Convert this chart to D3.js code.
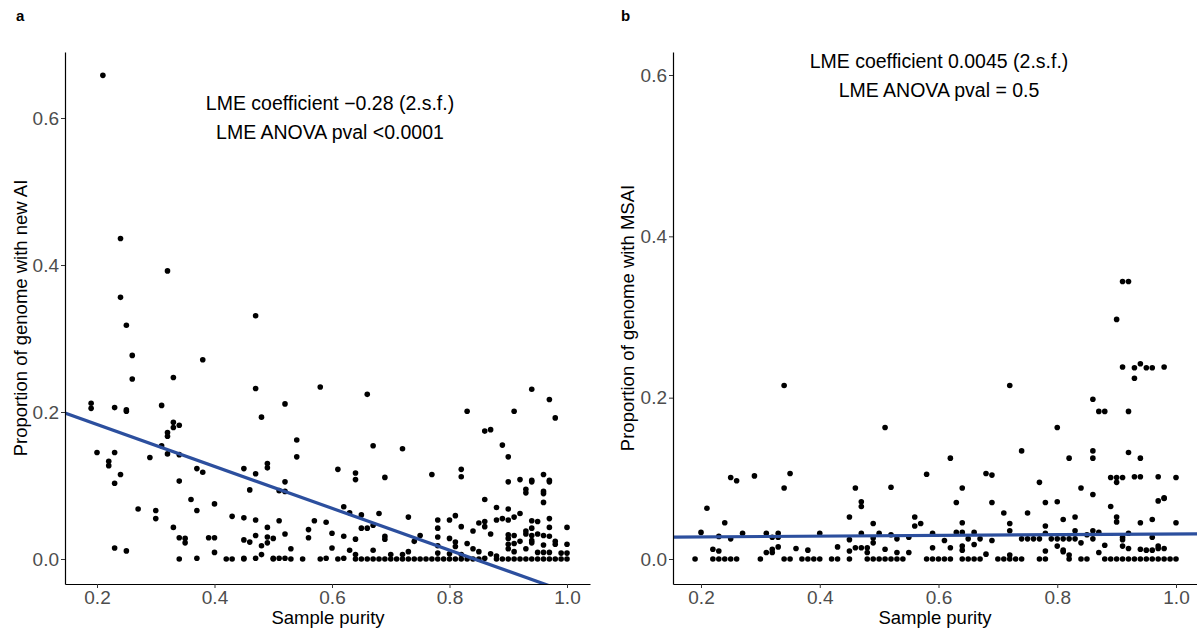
<!DOCTYPE html>
<html>
<head>
<meta charset="utf-8">
<script src="https://cdn.jsdelivr.net/npm/d3@7"></script>
<style>
  html, body { margin: 0; padding: 0; background: #fff; }
  svg { display: block; font-family: "Liberation Sans", Arial, Helvetica, sans-serif; }
</style>
</head>
<body>
<svg id="chart" width="1197" height="632"></svg>
<script>
// Panel a: sample purity vs proportion of genome with new allelic imbalance
const purityNewAI = [
  0.21,0.24,0.24,0.25,0.26,0.26,0.32,0.33,0.38,0.47,0.47,0.52,0.58,0.66,0.94,0.97,0.98,
  0.19,0.19,0.23,0.25,0.25,0.31,0.83,0.91,0.48,
  0.33,0.33,0.34,0.32,0.32,0.31,0.20,0.23,0.32,0.34,0.29,0.22,0.22,0.24,0.23,0.37,0.38,0.34,
  0.27,0.30,0.30,0.36,0.37,0.40,0.33,0.34,0.35,0.35,0.23,0.25,0.34,0.37,0.39,0.40,0.40,0.42,0.43,0.43,
  0.45,0.45,0.45,0.45,0.45, 0.46,0.46, 0.47,0.47,0.47,0.47, 0.48,0.48,
  0.49,0.49,0.49,0.49,0.49, 0.50,0.50,0.50, 0.51,0.51,0.51, 0.52,0.52,0.52,0.52, 0.53,0.53,
  0.54,0.54, 0.55, 0.56,0.56, 0.57, 0.58, 0.59,0.59, 0.60,0.60, 0.61,0.61, 0.62,0.62,0.62,
  0.63,0.63, 0.64,0.64,0.64,0.64,0.64, 0.65,0.65,0.65, 0.66,0.66, 0.67,0.67,0.67,0.67,
  0.68,0.68, 0.69,0.69,0.69,0.69, 0.70,0.70, 0.71, 0.72,0.72,0.72, 0.73,0.73,0.73,
  0.74,0.74, 0.75,0.75, 0.76, 0.77,0.77, 0.78,0.78,0.78,0.78,0.78,0.78, 0.79,
  0.80,0.80,0.80,0.80, 0.81,0.81,0.81,0.81, 0.82,0.82,0.82,0.82,0.82, 0.83,0.83,
  0.84,0.84,0.84, 0.85,0.85,0.85, 0.86,0.86,0.86,0.86,0.86, 0.87,0.87,0.87,
  0.88,0.88,0.88,0.88, 0.89,0.89,0.89,
  0.90,0.90,0.90,0.90,0.90,0.90,0.90,0.90,0.90, 0.91,0.91,0.91,0.91,0.91,
  0.92,0.92,0.92,0.92, 0.93,0.93,0.93,0.93,0.93,0.93,
  0.94,0.94,0.94,0.94,0.94,0.94,0.94,0.94, 0.95,0.95,0.95,0.95,
  0.96,0.96,0.96,0.96,0.96,0.96,0.96,0.96, 0.97,0.97,0.97,0.97,0.97,0.97,0.97,
  0.98,0.98,0.98, 0.99,0.99, 1.00,1.00,1.00,1.00
];
const propNewAI = [
  0.658,0.436,0.356,0.318,0.277,0.245,0.392,0.247,0.271,0.331,0.232,0.211,0.234,0.224,0.231,0.217,0.192,
  0.212,0.205,0.206,0.203,0.201,0.209,0.201,0.201,0.193,
  0.186,0.179,0.182,0.172,0.167,0.154,0.145,0.145,0.143,0.142,0.138,0.133,0.127,0.115,0.103,0.123,0.118,0.106,
  0.068,0.066,0.055,0.081,0.066,0.075,0.043,0.029,0.028,0.022,0.015,0.011,0.000,0.001,0.029,0.029,0.009,0.000,0.000,0.058,
  0.123,0.056,0.026,0.001,0.000, 0.094,0.023, 0.116,0.053,0.032,0.001, 0.018,0.006,
  0.130,0.124,0.043,0.030,0.022, 0.028,0.001,0.000, 0.093,0.052,0.001, 0.105,0.092,0.034,0.001, 0.014,0.000,
  0.162,0.139, 0.000, 0.040,0.029, 0.052, 0.000, 0.050,0.001, 0.035,0.015, 0.122,0.000, 0.071,0.031,0.001,
  0.063,0.012, 0.117,0.108,0.027,0.006,0.000, 0.060,0.042,0.000, 0.042,0.000, 0.154,0.046,0.012,0.000,
  0.062,0.000, 0.111,0.031,0.027,0.000, 0.006,0.000, 0.000, 0.150,0.006,0.000, 0.057,0.010,0.000,
  0.024,0.000, 0.032,0.000, 0.000, 0.115,0.000, 0.053,0.042,0.030,0.018,0.008,0.000, 0.000,
  0.053,0.028,0.007,0.000, 0.059,0.023,0.017,0.000, 0.122,0.112,0.044,0.006,0.000, 0.021,0.000,
  0.038,0.014,0.000, 0.049,0.010,0.000, 0.174,0.081,0.051,0.044,0.001, 0.176,0.034,0.007,
  0.070,0.053,0.004,0.000, 0.155,0.055,0.000,
  0.139,0.105,0.068,0.053,0.033,0.028,0.020,0.014,0.000, 0.057,0.032,0.021,0.010,0.000,
  0.108,0.062,0.024,0.000, 0.095,0.090,0.038,0.034,0.014,0.000,
  0.107,0.105,0.052,0.042,0.032,0.025,0.022,0.000, 0.051,0.034,0.009,0.000,
  0.115,0.092,0.089,0.077,0.032,0.019,0.009,0.000, 0.107,0.105,0.055,0.043,0.031,0.009,0.000,
  0.024,0.020,0.000, 0.008,0.000, 0.043,0.020,0.008,0.000
];

// Panel b: sample purity vs proportion of genome with MSAI
const purityMSAI = [
  0.91,0.92,0.90,0.91,0.93,0.94,0.95,0.96,0.98,0.93,0.34,0.72,0.86,0.87,0.88,0.92,0.51,0.80,
  0.74,0.86,0.86,0.92,0.94,0.62,0.82,
  0.25,0.26,0.29,0.35,0.34,0.58,0.68,0.69,0.77,0.89,0.90,0.91,0.90,0.93,0.94,0.97,1.00,
  0.46,0.52,0.64,0.84,0.86,0.21,0.63,0.69,0.78,0.80,0.47,0.47,0.89,0.97,0.98,0.98,
  0.71,0.75,0.45,0.56,0.56,0.57,0.83,0.90,0.90,0.96,0.24,0.49,0.64,0.72,0.78,0.94,1.00,0.81,
  0.20,0.27,0.31,0.33,0.33,0.32,0.23,0.25,0.40,0.47,0.49,0.50,0.52,0.53,0.55,0.59,0.61,
  0.63,0.64,0.66,0.65,0.67,0.66,0.69,0.72,0.74,0.75,0.76,0.77,0.78,0.79,0.80,0.81,0.82,0.83,
  0.83,0.85,0.86,0.87,0.86,0.91,0.91,0.92,0.96,0.84,0.88,0.91,0.92,0.94,0.95,0.96,0.97,0.97,0.98,
  0.64,0.64,0.62,0.59,0.51,0.53,0.55,0.49,0.48,0.46,0.47,0.48,0.45,0.45,0.43,0.38,0.36,0.33,
  0.32,0.32,0.31,0.22,0.23,0.68,0.72,0.80,0.81,0.81,0.82,0.87,0.78,
  0.19,0.22,0.23,0.24,0.25,0.26,0.30,0.34,0.35,0.37,0.38,0.39,0.40,0.42,0.43,0.45,
  0.48,0.49,0.50,0.51,0.52,0.53,0.54,0.58,0.59,0.60,0.61,0.62,0.64,0.65,0.66,0.67,
  0.70,0.71,0.72,0.73,0.74,0.77,0.78,0.82,0.84,0.85,
  0.88,0.89,0.90,0.91,0.92,0.93,0.94,0.95,0.96,0.97,0.98,0.99,1.00
];
const propMSAI = [
  0.344,0.344,0.297,0.238,0.237,0.242,0.237,0.237,0.238,0.224,0.215,0.215,0.198,0.183,0.183,0.183,0.163,0.163,
  0.134,0.134,0.125,0.132,0.125,0.125,0.125,
  0.101,0.097,0.103,0.106,0.088,0.105,0.106,0.104,0.095,0.101,0.101,0.101,0.095,0.102,0.102,0.102,0.101,
  0.088,0.089,0.088,0.088,0.080,0.063,0.070,0.070,0.070,0.071,0.071,0.065,0.065,0.072,0.075,0.076,
  0.057,0.057,0.052,0.052,0.041,0.044,0.052,0.052,0.046,0.049,0.045,0.044,0.045,0.044,0.041,0.045,0.045,0.049,
  0.033,0.032,0.032,0.032,0.027,0.027,0.028,0.025,0.032,0.032,0.026,0.032,0.030,0.025,0.027,0.032,0.023,
  0.033,0.033,0.033,0.025,0.025,0.018,0.023,0.035,0.025,0.025,0.025,0.025,0.032,0.025,0.025,0.025,0.025,0.025,
  0.035,0.030,0.035,0.033,0.025,0.027,0.024,0.032,0.027,0.020,0.017,0.016,0.013,0.012,0.011,0.011,0.016,0.013,0.013,
  0.016,0.011,0.014,0.014,0.012,0.008,0.008,0.020,0.008,0.014,0.014,0.014,0.024,0.010,0.015,0.011,0.013,0.015,
  0.012,0.008,0.008,0.012,0.010,0.006,0.005,0.016,0.011,0.009,0.005,0.008,0.010,
  0,0,0,0,0,0,0,0,0,0,0,0,0,0,0,0,
  0,0,0,0,0,0,0,0,0,0,0,0,0,0,0,0,
  0,0,0,0,0,0,0,0,0,0,
  0,0,0,0,0,0,0,0,0,0,0,0,0
];

// Fitted LME lines (intercept, slope)
const fitNewAI = [0.240, -0.285];
const fitMSAI = [0.0265, 0.0045];

const xTicks = [0.2, 0.4, 0.6, 0.8, 1.0];
const yTicks = [0.0, 0.2, 0.4, 0.6];

const annotNewAI = ["LME coefficient \u22120.28 (2.s.f.)", "LME ANOVA pval <0.0001"];
const annotMSAI = ["LME coefficient 0.0045 (2.s.f.)", "LME ANOVA pval = 0.5"];

const svg = d3.select("#chart");
const fmt = d3.format(".1f");

function panel(opts) {
  const { id, purity, prop, fit, annot, yTitle, tag, left, right, top, bottom,
          x02, x10, y0, y06, annotX, annotY1, annotY2, tagX, yTitleX, xTitleX } = opts;

  // scales anchored on tick positions, extended to the panel edges
  const xs0 = d3.scaleLinear().domain([0.2, 1.0]).range([x02, x10]);
  const ys0 = d3.scaleLinear().domain([0.0, 0.6]).range([y0, y06]);
  const x = d3.scaleLinear().domain([xs0.invert(left), xs0.invert(right)]).range([left, right]);
  const y = d3.scaleLinear().domain([ys0.invert(bottom), ys0.invert(top)]).range([bottom, top]);

  const g = svg.append("g");

  const clipId = "clip-" + id;
  svg.append("clipPath").attr("id", clipId)
    .append("rect").attr("x", left).attr("y", top)
    .attr("width", right - left).attr("height", bottom - top);

  // points
  g.append("g").selectAll("circle")
    .data(purity.map((p, i) => [p, prop[i]]))
    .join("circle")
    .attr("cx", d => x(d[0]))
    .attr("cy", d => y(d[1]))
    .attr("r", 2.8)
    .attr("fill", "#000");

  // fitted line
  const [x0, x1] = x.domain();
  const lineData = [[x0, fit[0] + fit[1] * x0], [x1, fit[0] + fit[1] * x1]];
  const line = d3.line().x(d => x(d[0])).y(d => y(d[1]));
  g.append("path")
    .attr("clip-path", `url(#${clipId})`)
    .attr("d", line(lineData))
    .attr("fill", "none")
    .attr("stroke", "#2c4f9e")
    .attr("stroke-width", 3.2);

  // axes
  const xAxis = d3.axisBottom(x).tickValues(xTicks).tickFormat(fmt).tickSize(4).tickPadding(3).tickSizeOuter(0);
  const yAxis = d3.axisLeft(y).tickValues(yTicks).tickFormat(fmt).tickSize(4).tickPadding(2).tickSizeOuter(0);

  const gx = g.append("g").attr("transform", `translate(0,${bottom})`).call(xAxis);
  const gy = g.append("g").attr("transform", `translate(${left},0)`).call(yAxis);
  [gx, gy].forEach(a => {
    a.select(".domain").attr("stroke", "#000").attr("stroke-width", 1.2);
    a.selectAll(".tick line").attr("stroke", "#333").attr("stroke-width", 1);
    a.selectAll(".tick text").attr("fill", "#4d4d4d").style("font-size", "19px")
      .style("font-family", '"Liberation Sans", Arial, sans-serif');
  });

  // axis titles
  g.append("text")
    .attr("x", xTitleX).attr("y", 624)
    .attr("text-anchor", "middle")
    .style("font-size", "18.5px")
    .text("Sample purity");

  g.append("text")
    .attr("transform", `translate(${yTitleX},318) rotate(-90)`)
    .attr("text-anchor", "middle")
    .style("font-size", "18.5px")
    .text(yTitle);

  // annotation
  g.append("text").attr("x", annotX).attr("y", annotY1)
    .attr("text-anchor", "middle").style("font-size", "19.5px").text(annot[0]);
  g.append("text").attr("x", annotX).attr("y", annotY2)
    .attr("text-anchor", "middle").style("font-size", "19.5px").text(annot[1]);

  // panel tag
  g.append("text").attr("x", tagX).attr("y", 21)
    .style("font-size", "15px").style("font-weight", "bold").text(tag);
}

panel({
  id: "a", purity: purityNewAI, prop: propNewAI, fit: fitNewAI, annot: annotNewAI,
  yTitle: "Proportion of genome with new AI", tag: "a",
  left: 65, right: 590, top: 52, bottom: 584,
  x02: 97, x10: 567, y0: 559, y06: 118,
  annotX: 330, annotY1: 110, annotY2: 139, tagX: 16, yTitleX: 27, xTitleX: 328
});

panel({
  id: "b", purity: purityMSAI, prop: propMSAI, fit: fitMSAI, annot: annotMSAI,
  yTitle: "Proportion of genome with MSAI", tag: "b",
  left: 673, right: 1197, top: 52, bottom: 584,
  x02: 701, x10: 1176, y0: 559, y06: 75,
  annotX: 939, annotY1: 68, annotY2: 97, tagX: 621, yTitleX: 634, xTitleX: 935
});
</script>
</body>
</html>
